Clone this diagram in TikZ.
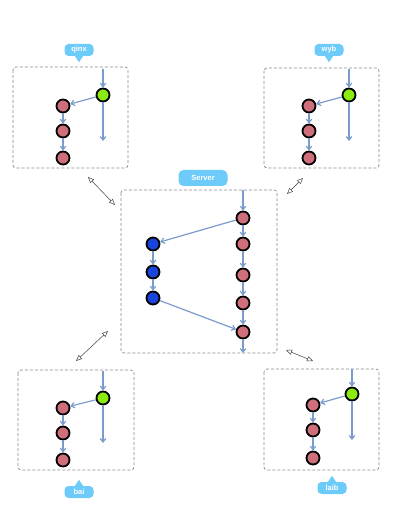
\documentclass[tikz,border=0pt]{standalone}
\usepackage{fontspec}
\setsansfont{Liberation Sans}
\usetikzlibrary{arrows.meta,calc}
\definecolor{edgeblue}{HTML}{7B9BCC}
\definecolor{tagblue}{HTML}{6DCBFA}
\definecolor{commitred}{HTML}{CF6F7B}
\definecolor{headgreen}{HTML}{8BEA10}
\definecolor{branchblue}{HTML}{1A45DC}
\definecolor{boxgray}{HTML}{8A8A8A}
\tikzset{
  commit/.style={circle,draw=black,line width=1.8pt,minimum size=13pt,inner sep=0pt},
  redc/.style={commit,fill=commitred},
  greenc/.style={commit,fill=headgreen},
  bluec/.style={commit,fill=branchblue},
  flow/.style={draw=edgeblue,line width=1.2pt,-{Straight Barb[length=3.5pt,width=5.5pt]}},
  frame/.style={draw=boxgray,dash pattern=on 3pt off 2pt,line width=0.7pt,rounded corners=3pt},
  tag/.style={fill=tagblue,text=white,font=\sffamily\bfseries\fontsize{7.5}{9}\selectfont,
    rounded corners=4pt,inner sep=0pt,minimum height=12pt,minimum width=29pt},
  sync/.style={draw=black!75,line width=0.5pt,{Triangle[open,length=6pt,width=5pt]}-{Triangle[open,length=6pt,width=5pt]}}
}
\begin{document}
\begin{tikzpicture}[x=1pt,y=-1pt]
\useasboundingbox (0,0) rectangle (400,510);

% ---------- client qinx ----------
\draw[frame] (13,67) rectangle (128,168);
\node[tag] (tq) at (79,50) {qinx};
\fill[tagblue] ([xshift=-4pt]tq.south) -- ([xshift=4pt]tq.south) -- ([yshift=-6pt]tq.south) -- cycle;
\node[greenc] (qg) at (103,95) {};
\node[redc] (q1) at (63,106) {};
\node[redc] (q2) at (63,131) {};
\node[redc] (q3) at (63,158) {};
\coordinate (qt) at (103,69);
\coordinate (qb) at (103,141);
\draw[flow] (qt) -- (qg);
\draw[flow] (qg) -- (qb);
\draw[flow] (qg) -- (q1);
\draw[flow] (q1) -- (q2);
\draw[flow] (q2) -- (q3);

% ---------- client wyb ----------
\draw[frame] (264,68) rectangle (379,168);
\node[tag] (tw) at (329,50) {wyb};
\fill[tagblue] ([xshift=-4pt]tw.south) -- ([xshift=4pt]tw.south) -- ([yshift=-6pt]tw.south) -- cycle;
\node[greenc] (wg) at (349,95) {};
\node[redc] (w1) at (309,106) {};
\node[redc] (w2) at (309,131) {};
\node[redc] (w3) at (309,158) {};
\coordinate (wt) at (349,69);
\coordinate (wb) at (349,141);
\draw[flow] (wt) -- (wg);
\draw[flow] (wg) -- (wb);
\draw[flow] (wg) -- (w1);
\draw[flow] (w1) -- (w2);
\draw[flow] (w2) -- (w3);

% ---------- server ----------
\draw[frame] (121,190) rectangle (277,353);
\node[tag,rounded corners=5pt,minimum width=49pt,minimum height=16pt] (ts) at (203,178) {Server};
\node[redc] (s1) at (243,218) {};
\node[redc] (s2) at (243,244) {};
\node[redc] (s3) at (243,275) {};
\node[redc] (s4) at (243,303) {};
\node[redc] (s5) at (243,332) {};
\node[bluec] (b1) at (153,244) {};
\node[bluec] (b2) at (153,272) {};
\node[bluec] (b3) at (153,298) {};
\coordinate (st) at (243,190);
\coordinate (sb) at (243,353);
\draw[flow] (st) -- (s1);
\draw[flow] (s1) -- (s2);
\draw[flow] (s2) -- (s3);
\draw[flow] (s3) -- (s4);
\draw[flow] (s4) -- (s5);
\draw[flow] (s5) -- (sb);
\draw[flow] (s1) -- (b1);
\draw[flow] (b1) -- (b2);
\draw[flow] (b2) -- (b3);
\draw[flow] (b3) -- (s5);

% ---------- client bai ----------
\draw[frame] (18,370) rectangle (134,470);
\node[tag] (tb) at (79,492) {bai};
\fill[tagblue] ([xshift=-4pt]tb.north) -- ([xshift=4pt]tb.north) -- ([yshift=6pt]tb.north) -- cycle;
\node[greenc] (bg) at (103,398) {};
\node[redc] (l1) at (63,408) {};
\node[redc] (l2) at (63,433) {};
\node[redc] (l3) at (63,460) {};
\coordinate (bt) at (103,371);
\coordinate (bb) at (103,443);
\draw[flow] (bt) -- (bg);
\draw[flow] (bg) -- (bb);
\draw[flow] (bg) -- (l1);
\draw[flow] (l1) -- (l2);
\draw[flow] (l2) -- (l3);

% ---------- client laib ----------
\draw[frame] (264,369) rectangle (379,470);
\node[tag] (tl) at (332,488) {laib};
\fill[tagblue] ([xshift=-4pt]tl.north) -- ([xshift=4pt]tl.north) -- ([yshift=6pt]tl.north) -- cycle;
\node[greenc] (lg) at (352,394) {};
\node[redc] (m1) at (313,405) {};
\node[redc] (m2) at (313,430) {};
\node[redc] (m3) at (313,458) {};
\coordinate (lt) at (352,369);
\coordinate (lb) at (352,440);
\draw[flow] (lt) -- (lg);
\draw[flow] (lg) -- (lb);
\draw[flow] (lg) -- (m1);
\draw[flow] (m1) -- (m2);
\draw[flow] (m2) -- (m3);

% ---------- sync links between clients and server ----------
\coordinate (aq1) at (88,177);  \coordinate (aq2) at (115,205);
\coordinate (aw1) at (287,194); \coordinate (aw2) at (303,178);
\coordinate (ab1) at (76,361);  \coordinate (ab2) at (108,331);
\coordinate (al1) at (286,350); \coordinate (al2) at (313,361);
\draw[sync] (aq1) -- (aq2);
\draw[sync] (aw1) -- (aw2);
\draw[sync] (ab1) -- (ab2);
\draw[sync] (al1) -- (al2);
\end{tikzpicture}
\end{document}
